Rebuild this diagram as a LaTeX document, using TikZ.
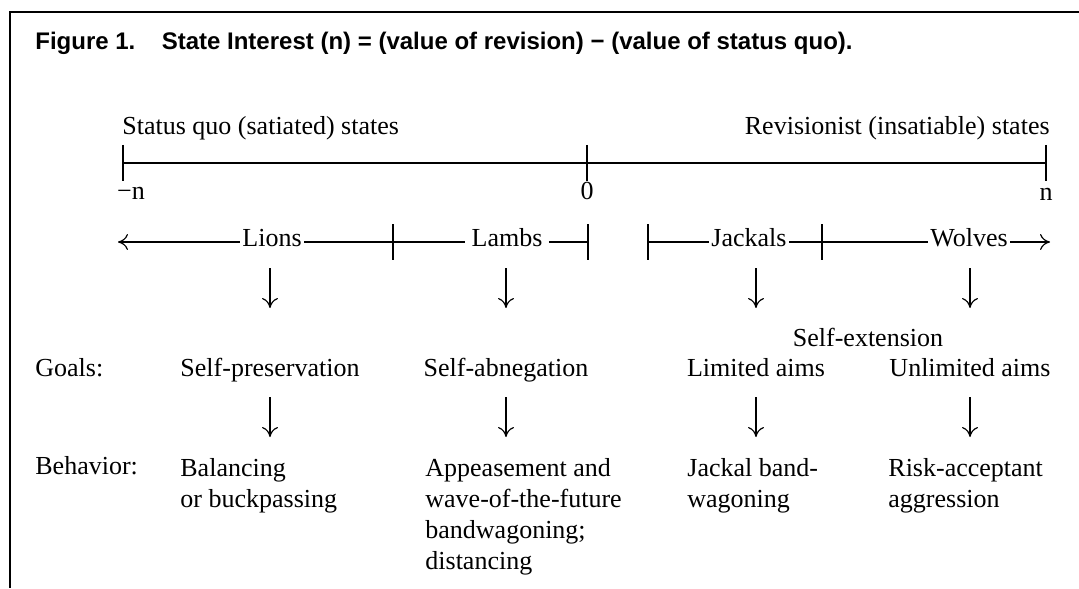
\documentclass[tikz,border=0pt]{standalone}
\usepackage{fontspec}
\setmainfont{Liberation Serif}
\newfontfamily\titlefont{Liberation Sans}
\usetikzlibrary{arrows.meta}

\begin{document}
\begin{tikzpicture}[
    x=0.5pt,y=-0.5pt,
    txt/.style={inner sep=1pt,anchor=mid,font=\fontsize{13}{15.5}\selectfont},
    para/.style={txt,anchor=north west,align=left,inner sep=0pt},
    bar/.style={line width=0.6pt},
    axis/.style={line width=0.6pt},
    arrow/.style={-{Computer Modern Rightarrow[length=5pt,width=8pt]},line width=0.6pt}
]
\useasboundingbox (0,0) rectangle (1079,588);
\draw[line width=1.3pt] (1079,12) -- (10,12) -- (10,588);
\node[anchor=west,inner sep=0pt,font=\titlefont\bfseries\fontsize{12}{14}\selectfont] (title) at (35,43)
    {Figure 1.\hspace{1.1em}State Interest (n) = (value of revision) − (value of status quo).};

% the interest scale
\node[txt,anchor=mid west] (satiated) at (120,130) {Status quo (satiated) states};
\node[txt,anchor=mid east] (revisionist) at (1052,130) {Revisionist (insatiable) states};
\coordinate (neg) at (123,163);
\coordinate (origin) at (587,163);
\coordinate (pos) at (1046,163);
\draw[axis] (neg) -- (pos);
\foreach \c in {neg,origin,pos}
    \draw[bar] ([yshift=9pt]\c) -- ([yshift=-9pt]\c);
\node[txt] (minusn) at (131,195) {−n};
\node[txt] (zero) at (587,195) {0};
\node[txt] (plusn) at (1046,196) {n};

% the four kinds of state
\node[txt] (lions) at (272,242) {Lions};
\node[txt,inner xsep=3pt] (lambs) at (507,242) {Lambs};
\node[txt] (jackals) at (749,242) {Jackals};
\node[txt] (wolves) at (969,242) {Wolves};
\coordinate (lo) at (118,242);
\coordinate (t1) at (393,242);
\coordinate (t2) at (588,242);
\coordinate (t3) at (648,242);
\coordinate (t4) at (822,242);
\coordinate (hi) at (1050,242);
\foreach \c in {t1,t2,t3,t4}
    \draw[bar] ([yshift=9pt]\c) -- ([yshift=-9pt]\c);
\draw[arrow] (lions.mid west) -- (lo);
\draw[axis] (lions.mid east) -- (t1) -- (lambs.mid west);
\draw[axis] (lambs.mid east) -- (t2);
\draw[axis] (t3) -- (jackals.mid west);
\draw[axis] (jackals.mid east) -- (t4) -- (wolves.mid west);
\draw[arrow] (wolves.mid east) -- (hi);

% goals
\node[txt] (selfext) at (868,342) {Self-extension};
\node[txt,anchor=mid west] (goals) at (33,372) {Goals:};
\node[txt] (preserve) at (270,372) {Self-preservation};
\node[txt] (abnegate) at (506,372) {Self-abnegation};
\node[txt] (limited) at (756,372) {Limited aims};
\node[txt] (unlimited) at (970,372) {Unlimited aims};

% behavior
\node[txt,anchor=mid west] (behavior) at (33,470) {Behavior:};
\node[para] (balance) at (180,458) {Balancing\\or buckpassing};
\node[para] (appease) at (425,458) {Appeasement and\\wave-of-the-future\\bandwagoning;\\distancing};
\node[para] (bandwagon) at (687,458) {Jackal band-\\wagoning};
\node[para] (aggress) at (888,458) {Risk-acceptant\\aggression};

\draw[arrow,shorten <=13pt,shorten >=32pt] (preserve.mid |- lions.mid) -- (preserve.mid);
\draw[arrow,shorten <=13pt,shorten >=32pt] (abnegate.mid |- lambs.mid) -- (abnegate.mid);
\draw[arrow,shorten <=13pt,shorten >=32pt] (limited.mid |- jackals.mid) -- (limited.mid);
\draw[arrow,shorten <=13pt,shorten >=32pt] (unlimited.mid |- wolves.mid) -- (unlimited.mid);
\draw[arrow,shorten <=12.5pt,shorten >=10.5pt] (preserve.mid) -- (preserve.mid |- balance.north);
\draw[arrow,shorten <=12.5pt,shorten >=10.5pt] (abnegate.mid) -- (abnegate.mid |- appease.north);
\draw[arrow,shorten <=12.5pt,shorten >=10.5pt] (limited.mid) -- (limited.mid |- bandwagon.north);
\draw[arrow,shorten <=12.5pt,shorten >=10.5pt] (unlimited.mid) -- (unlimited.mid |- aggress.north);
\end{tikzpicture}
\end{document}
